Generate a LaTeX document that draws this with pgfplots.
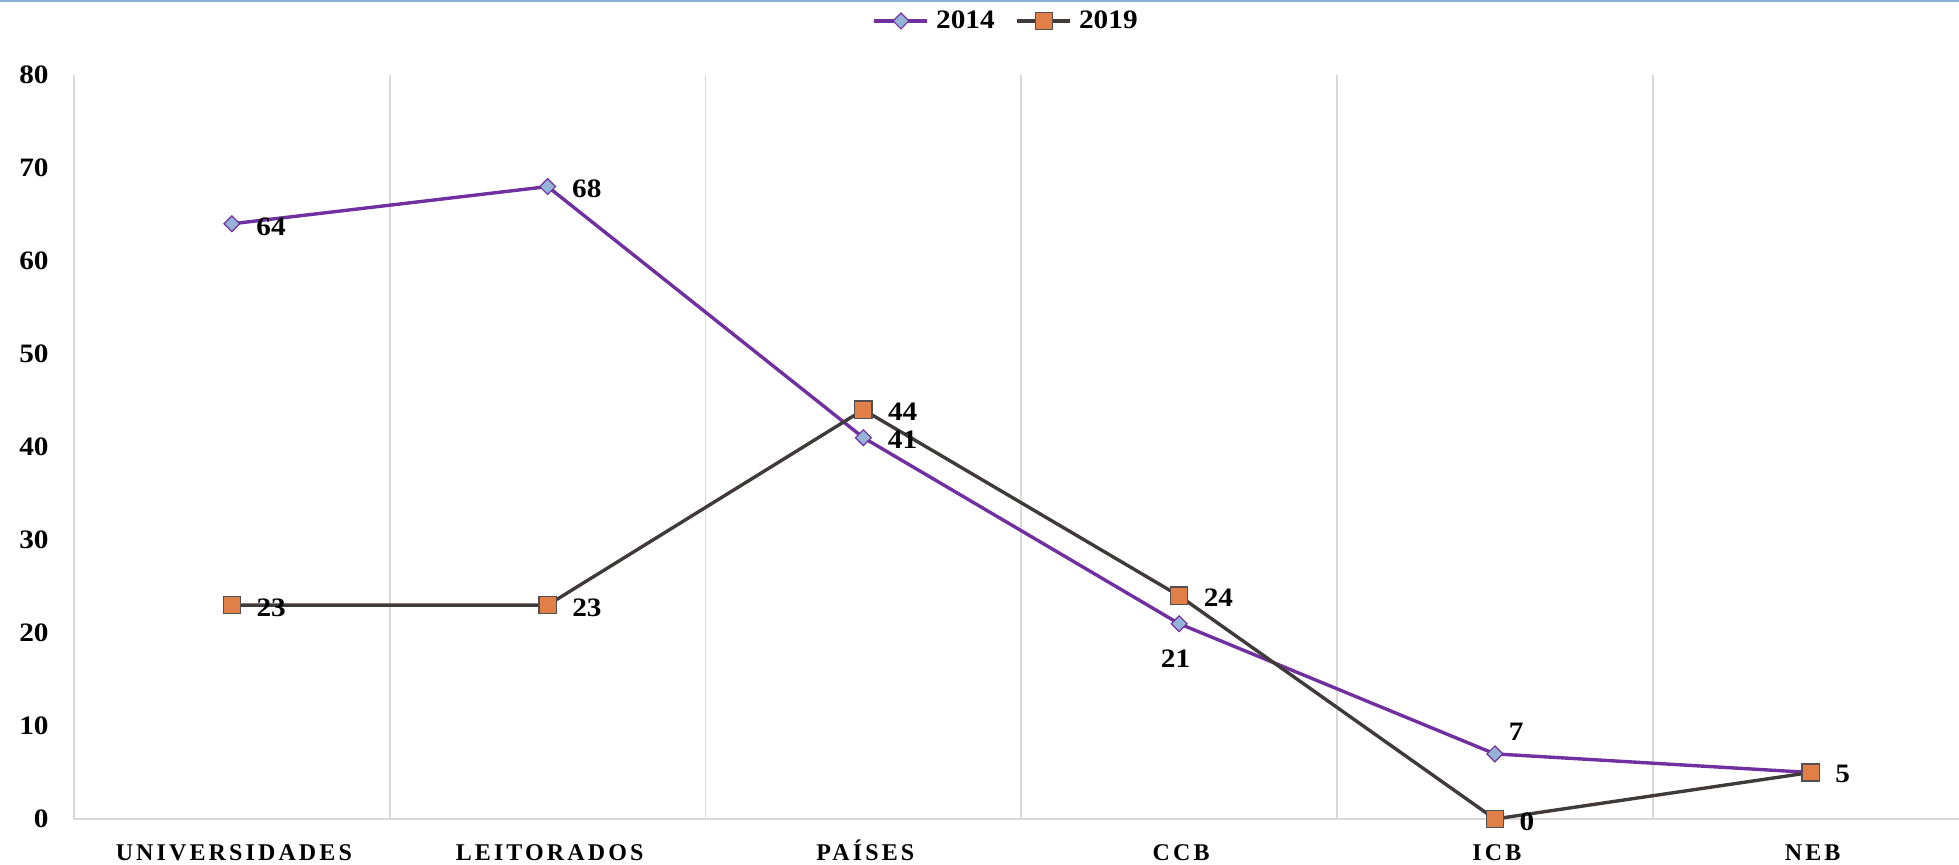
\documentclass[border=0pt]{standalone}
\usepackage{pgfplots}
\pgfplotsset{compat=1.18}
\usepackage{pgfplotstable}
\usepackage{fontspec}
\setmainfont{Liberation Serif}[FakeStretch=1.1]
\newfontfamily\xlabfont{Liberation Serif}[LetterSpace=13]
\definecolor{lp}{RGB}{112,48,160}
\definecolor{lb}{RGB}{149,179,215}
\definecolor{dg}{RGB}{64,58,58}
\definecolor{og}{RGB}{224,128,72}
\definecolor{ogb}{RGB}{85,78,78}
\definecolor{gridc}{RGB}{217,217,217}
\definecolor{topc}{RGB}{140,180,215}

\pgfplotstableread{
x y lab dx dy
0 64 64 12 -1.5
1 68 68 12 -1.2
2 41 41 12 -1.2
3 21 21 -9.4 -17.5
4 7 7 6.7 11
5 5 {} 0 0
}\dataA
\pgfplotstableread{
x y lab dx dy
0 23 23 12 -1.2
1 23 23 12 -1.2
2 44 44 12 -0.8
3 24 24 12 -0.8
4 0 0 12 -1.2
5 5 5 12 -0.8
}\dataB

\begin{document}
\begin{tikzpicture}
\path[use as bounding box] (0,0) rectangle (979.5pt,432.5pt);
\draw[topc, line width=1pt] (0,432pt) -- (979.5pt,432pt);
\begin{axis}[
  at={(37pt,23pt)}, anchor=south west,
  scale only axis, width=942.5pt, height=372pt,
  xmin=-0.5, xmax=5.47, ymin=0, ymax=80,
  clip=false,
  axis line style={draw=none},
  major tick length=0pt, minor tick length=0pt,
  xtick={0,...,5},
  xticklabels={UNIVERSIDADES,LEITORADOS,PAÍSES,CCB,ICB,NEB},
  minor xtick={-0.5,0.5,1.5,2.5,3.5,4.5},
  xminorgrids,
  minor grid style={gridc, line width=0.8pt},
  ytick={0,10,...,80},
  extra y ticks={0}, extra y tick labels={},
  extra y tick style={ymajorgrids=true, major grid style={gridc, line width=0.8pt}},
  /pgf/number format/assume math mode=true,
  yticklabel style={anchor=east, inner sep=0pt, xshift=-12.5pt, font=\bfseries\fontsize{13.3}{15}\selectfont},
  xticklabel style={anchor=north, inner sep=0pt, yshift=-12.5pt, xshift=1pt, text height=8pt, text depth=0pt, font=\xlabfont\bfseries\fontsize{12}{14}\selectfont},
  legend style={at={(0.494,1.0726)}, anchor=center, draw=none, fill=none, inner sep=0pt,
    nodes={inner sep=0pt},
    legend columns=-1, font=\bfseries\fontsize{13.3}{15}\selectfont,
    /tikz/every even column/.append style={column sep=10.5pt},
    /tikz/every odd column/.append style={column sep=3.5pt},
    cells={anchor=west}},
  legend image code/.code={\draw[#1,mark repeat=2,mark phase=2] plot coordinates {(0pt,0pt) (13.25pt,0pt) (26.5pt,0pt)};},
  point meta=explicit symbolic,
  nodes near coords,
  visualization depends on={\thisrow{dx} \as \dx},
  visualization depends on={\thisrow{dy} \as \dy},
  every node near coord/.append style={anchor=west, inner sep=0pt, xshift=\dx pt, yshift=\dy pt, text=black, font=\bfseries\fontsize{13.3}{15}\selectfont},
]
\addplot[color=lp, line width=1.7pt, mark=square*, mark size=2.8pt,
  mark options={rotate=45, fill=lb, draw=lp, line width=0.6pt, solid}]
  table[x=x, y=y, meta=lab] {\dataA};
\addlegendentry{2014}
\addplot[color=dg, line width=1.7pt, mark=square*, mark size=4.3pt,
  mark options={fill=og, draw=ogb, line width=0.7pt, solid}]
  table[x=x, y=y, meta=lab] {\dataB};
\addlegendentry{2019}
\end{axis}
\end{tikzpicture}
\end{document}
